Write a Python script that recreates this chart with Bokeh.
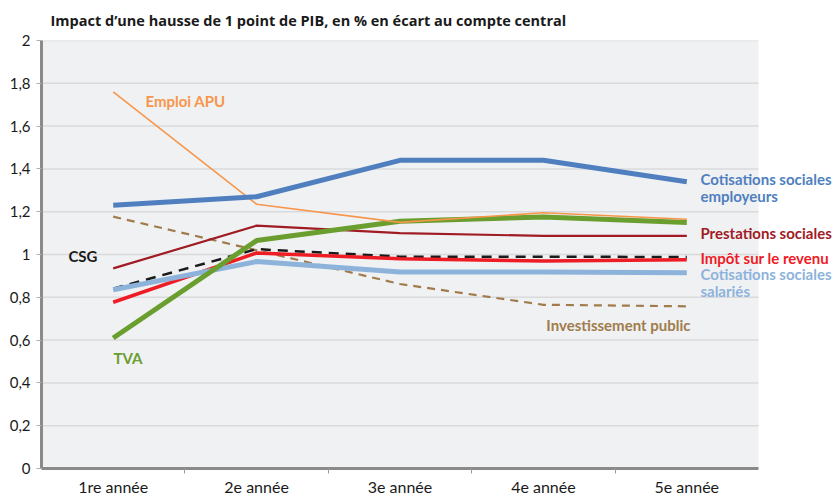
from bokeh.plotting import figure
from bokeh.models import Range1d, FixedTicker, CustomJSTickFormatter, Label
from bokeh.embed import file_html
from bokeh.resources import INLINE

categories = ["1re année", "2e année", "3e année", "4e année", "5e année"]
y_ticks = [0, 0.2, 0.4, 0.6, 0.8, 1.0, 1.2, 1.4, 1.6, 1.8, 2.0]

cot_employeurs = [1.23, 1.27, 1.44, 1.44, 1.34]
emploi_apu = [1.76, 1.235, 1.15, 1.195, 1.165]
tva = [0.61, 1.065, 1.155, 1.175, 1.15]
prestations = [0.935, 1.135, 1.10, 1.087, 1.087]
csg = [0.84, 1.025, 0.99, 0.99, 0.988]
impot_revenu = [0.777, 1.007, 0.98, 0.97, 0.975]
cot_salaries = [0.835, 0.967, 0.918, 0.918, 0.915]
invest_public = [1.177, 1.02, 0.862, 0.765, 0.758]

FONT = "Lato"
n = len(categories)
xs = [i + 0.5 for i in range(n)]

W, H = 839, 498
# frame extends to the right beyond the last category so the end labels stay visible
p = figure(width=W, height=H, output_backend="svg", toolbar_location=None,
           x_range=Range1d(0, n * (W - 41) / 717), y_range=Range1d(0, 2),
           min_border_left=41, min_border_right=0, min_border_top=40, min_border_bottom=29)

p.background_fill_color = "white"
p.border_fill_color = "white"
p.outline_line_color = None
p.xgrid.grid_line_color = None
p.ygrid.grid_line_color = None

p.title.text = "Impact d’une hausse de 1 point de PIB, en % en écart au compte central"
p.title.text_font = "Open Sans"
p.title.text_font_size = "14.5px"
p.title.text_font_style = "bold"
p.title.text_color = "#1a1a1a"
p.title.align = "left"
p.title.vertical_align = "top"
p.title.offset = 9
p.title.standoff = 18

# plot background and horizontal grid lines over the category span only
p.quad(left=0, right=n, bottom=y_ticks[0], top=y_ticks[-1],
       fill_color="#F0F1F3", line_color=None)
p.segment(x0=[0] * (len(y_ticks) - 1), x1=[n] * (len(y_ticks) - 1),
          y0=y_ticks[1:], y1=y_ticks[1:], line_color="#D9DADC", line_width=1.5)

# x axis
p.xaxis.bounds = (0, n)
p.xaxis.ticker = FixedTicker(ticks=xs, minor_ticks=list(range(1, n)))
p.xaxis.formatter = CustomJSTickFormatter(args=dict(labels=categories),
                                          code="return labels[Math.round(tick - 0.5)];")
p.xaxis.axis_line_color = "#8a8a8a"
p.xaxis.axis_line_width = 3
p.xaxis.major_tick_line_color = None
p.xaxis.major_tick_out = 0
p.xaxis.major_tick_in = 0
p.xaxis.minor_tick_line_color = "#9a9a9a"
p.xaxis.minor_tick_out = 5
p.xaxis.minor_tick_in = 0
p.xaxis.major_label_standoff = 3
p.xaxis.major_label_text_font = FONT
p.xaxis.major_label_text_font_size = "16px"
p.xaxis.major_label_text_color = "#1a1a1a"

# y axis
p.yaxis.ticker = FixedTicker(ticks=y_ticks)
p.yaxis.formatter = CustomJSTickFormatter(
    code="var s = tick.toFixed(1).replace('.', ','); return s.endsWith(',0') ? s.slice(0, -2) : s;")
p.yaxis.axis_line_color = "#8a8a8a"
p.yaxis.axis_line_width = 3
p.yaxis.major_tick_line_color = "#b0b0b0"
p.yaxis.minor_tick_line_color = None
p.yaxis.major_tick_out = 5
p.yaxis.major_tick_in = 0
p.yaxis.major_label_standoff = 6
p.yaxis.major_label_text_font = FONT
p.yaxis.major_label_text_font_size = "15px"
p.yaxis.major_label_text_color = "#1a1a1a"

# series (back to front)
series = [
    (invest_public, "#A07C4C", 2.2, "8 6"),
    (prestations, "#A01B24", 2.2, "solid"),
    (csg, "#1a1a1a", 2.5, "10 7"),
    (impot_revenu, "#EE1C25", 3.5, "solid"),
    (cot_salaries, "#8DB3DB", 5, "solid"),
    (tva, "#6A9E2E", 5, "solid"),
    (emploi_apu, "#F7964A", 1.6, "solid"),
    (cot_employeurs, "#4F7FBF", 5, "solid"),
]
for ys, col, w, dash in series:
    p.line(xs, ys, line_color=col, line_width=w, line_dash=dash, line_join="round")

# labels: (text, x, y, color, align)
labels = [
    ("Emploi APU", 0.725, 1.716, "#F7964A", "left"),
    ("CSG", 0.39, 0.993, "#1a1a1a", "right"),
    ("TVA", 0.502, 0.517, "#6A9E2E", "left"),
    ("Cotisations sociales", 4.595, 1.352, "#4F7FBF", "left"),
    ("employeurs", 4.595, 1.273, "#4F7FBF", "left"),
    ("Prestations sociales", 4.595, 1.100, "#A01B24", "left"),
    ("Impôt sur le revenu", 4.595, 0.984, "#EE1C25", "left"),
    ("Cotisations sociales", 4.595, 0.909, "#8DB3DB", "left"),
    ("salariés", 4.595, 0.830, "#8DB3DB", "left"),
    ("Investissement public", 4.526, 0.671, "#A07C4C", "right"),
]
for txt, x, y, col, al in labels:
    p.add_layout(Label(x=x, y=y, text=txt, text_color=col, text_font=FONT,
                       text_font_size="15px", text_font_style="bold",
                       text_align=al, text_baseline="middle"))

open("out.html", "w").write(file_html(p, INLINE))
